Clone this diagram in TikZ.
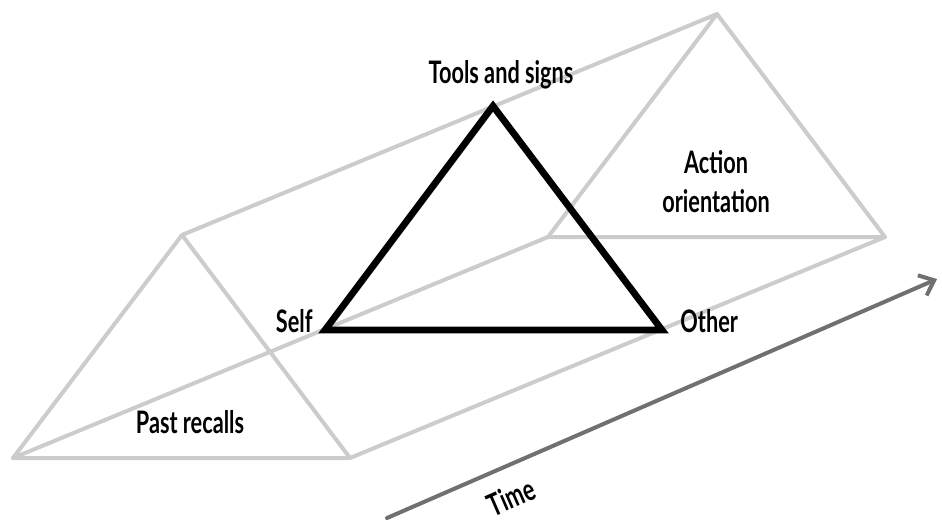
\documentclass[tikz,border=0pt]{standalone}
\usepackage{fontspec}
\setmainfont{Lato}[FakeStretch=0.7]
\usetikzlibrary{arrows.meta}
\definecolor{prism}{HTML}{CCCCCC}
\definecolor{timegrey}{HTML}{707070}

\begin{document}
\begin{tikzpicture}[x=0.5pt, y=-0.5pt, >={Straight Barb[length=6.5pt,width=11pt]},
  frame/.style={draw=prism, line width=2pt, line join=round, line cap=round},
  core/.style={draw=black, line width=3.4pt, line join=miter},
  lbl/.style={font=\fontsize{15.5}{19.5}\selectfont\bfseries, align=center, inner sep=0pt}]
  \useasboundingbox (0,0) rectangle (942,520);
  % prism corners: past (back) and action (front) ends
  \coordinate (pa) at (182,235);
  \coordinate (pl) at (13,458);
  \coordinate (pr) at (350,458);
  \coordinate (fa) at (717,14);
  \coordinate (fl) at (548,237);
  \coordinate (fr) at (885,237);
  \draw[frame] (pa) -- (pl) -- (pr) -- cycle;
  \draw[frame] (fa) -- (fl) -- (fr) -- cycle;
  \draw[frame] (pa) -- (fa);
  \draw[frame] (pl) -- (fl);
  \draw[frame] (pr) -- (fr);
  % mediating triangle
  \coordinate (tools) at (493,106);
  \coordinate (self) at (325,330);
  \coordinate (other) at (662,330);
  \draw[core] (tools) -- (self) -- (other) -- cycle;
  % time axis
  \coordinate (t0) at (387,518);
  \coordinate (t1) at (937,279);
  \draw[timegrey, line width=2pt, line cap=round, ->] (t0) -- (t1);
  % labels
  \node[lbl, anchor=base] (toolslbl) at (501,83) {Tools and signs};
  \node[lbl, anchor=base east] (selflbl) at (313,332) {Self};
  \node[lbl, anchor=base west] (otherlbl) at (680,332) {Other};
  \node[lbl] (actionlbl) at (716,182) {Action\\orientation};
  \node[lbl, anchor=base] (pastlbl) at (190,433) {Past recalls};
  \node[lbl, rotate=23.5] (timelbl) at (511,497) {Time};
\end{tikzpicture}
\end{document}
